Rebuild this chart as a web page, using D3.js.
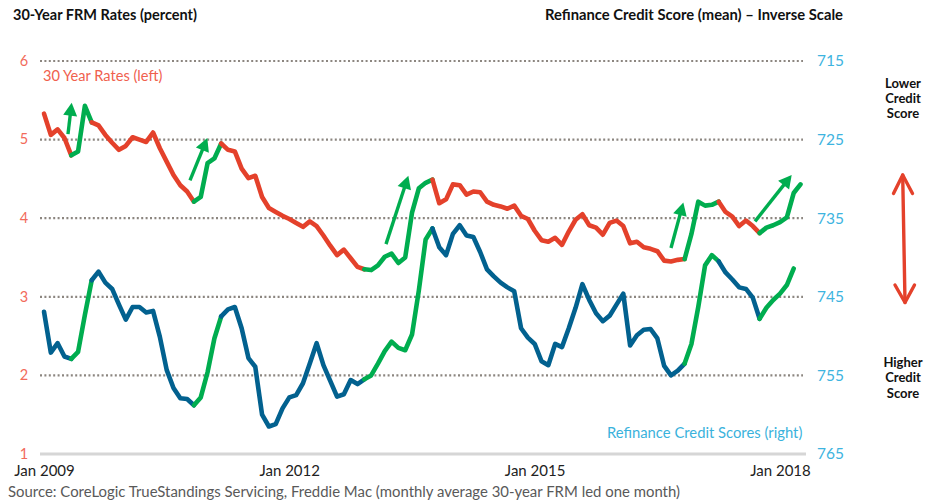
<!DOCTYPE html>
<html>
<head>
<meta charset="utf-8">
<script src="https://cdn.jsdelivr.net/npm/d3@7"></script>
<style>
  body { margin: 0; background: #fff; }
  svg { display: block; }
  text { font-family: Lato, "Open Sans", sans-serif; }
</style>
</head>
<body>
<svg id="chart" width="925" height="503"></svg>
<script>
// Monthly series, first month Jan 2009
const firstMonth = new Date(2009, 0, 1);

// 30-year FRM rate (percent), led one month
const rateValues = [
  5.33, 5.06, 5.13, 5.02, 4.80, 4.85, 5.43, 5.22, 5.18, 5.06,
  4.96, 4.87, 4.92, 5.03, 5.00, 4.97, 5.09, 4.89, 4.72, 4.55,
  4.42, 4.34, 4.21, 4.27, 4.70, 4.76, 4.95, 4.87, 4.85, 4.63,
  4.51, 4.54, 4.27, 4.13, 4.08, 4.03, 3.99, 3.94, 3.89, 3.96,
  3.90, 3.78, 3.65, 3.53, 3.60, 3.49, 3.38, 3.35, 3.34, 3.40,
  3.51, 3.55, 3.43, 3.50, 4.07, 4.38, 4.45, 4.49, 4.19, 4.24,
  4.43, 4.42, 4.30, 4.34, 4.33, 4.21, 4.17, 4.15, 4.12, 4.16,
  4.03, 3.99, 3.84, 3.72, 3.70, 3.75, 3.66, 3.83, 3.98, 4.05,
  3.91, 3.88, 3.79, 3.94, 3.97, 3.90, 3.68, 3.70, 3.63, 3.61,
  3.58, 3.46, 3.45, 3.47, 3.48, 3.80, 4.21, 4.16, 4.17, 4.21,
  4.08, 4.02, 3.90, 3.97, 3.90, 3.81, 3.88, 3.91, 3.95, 4.01,
  4.32, 4.43
];

// Mean refinance credit score
const creditValues = [
  746.9, 752.1, 750.9, 752.6, 752.9, 752.0, 747.3, 742.9, 741.8, 743.2,
  744.0, 746.0, 747.9, 746.3, 746.3, 747.0, 746.8, 750.1, 754.3, 756.6,
  757.9, 758.0, 758.8, 757.8, 754.6, 750.3, 747.5, 746.6, 746.3, 749.0,
  752.8, 753.9, 760.0, 761.5, 761.2, 759.2, 757.8, 757.5, 756.0, 753.5,
  750.9, 753.7, 755.7, 757.7, 757.4, 755.6, 756.1, 755.5, 755.0, 753.5,
  751.9, 750.7, 751.5, 751.8, 749.8, 744.2, 737.7, 736.3, 738.7, 739.7,
  737.0, 735.9, 737.2, 737.4, 739.3, 741.5, 742.4, 743.2, 743.8, 744.3,
  749.0, 750.2, 751.0, 753.2, 753.7, 751.0, 751.4, 749.0, 746.4, 743.4,
  745.4, 747.1, 748.1, 747.4, 746.0, 744.6, 751.2, 749.9, 749.2, 749.1,
  750.3, 753.8, 755.0, 754.4, 753.5, 751.0, 746.3, 741.0, 739.7, 740.5,
  741.9, 742.8, 743.8, 744.0, 745.1, 747.8, 746.4, 745.4, 744.6, 743.5,
  741.4
];

// Month-index spans where rates climb (and scores fall) — drawn in green
const rateRiseSpans   = [[4, 7], [22, 26], [47, 57], [94, 99], [105, 111]];
const creditRiseSpans = [[4, 7], [22, 26], [47, 57], [94, 99], [105, 110]];

// Trend arrows, as [month index, rate] pairs
const trendArrows = [
  { from: [3.52, 5.07],   to: [4.06, 5.47] },
  { from: [21.42, 4.48],  to: [23.96, 5.02] },
  { from: [50.18, 3.67],  to: [53.46, 4.54] },
  { from: [92.0, 3.62],   to: [93.81, 4.20] },
  { from: [104.33, 3.96], to: [109.71, 4.55] }
];

const rateTicks = [1, 2, 3, 4, 5, 6];
const creditTicks = [715, 725, 735, 745, 755, 765];
const dateTicks = [new Date(2009, 0, 1), new Date(2012, 0, 1), new Date(2015, 0, 1), new Date(2018, 0, 1)];

const RED = "#e4412b", GREEN = "#00ad4f", BLUE = "#02618f";

const svg = d3.select("#chart");

const x = d3.scaleTime()
  .domain([new Date(2009, 0, 1), new Date(2018, 0, 1)])
  .range([44, 780]);
const yRate = d3.scaleLinear().domain([1, 6]).range([454, 61]);
const yCredit = d3.scaleLinear().domain([765, 715]).range([454, 61]);

// Month index -> date (fractional indices allowed, average month length)
const MONTH_MS = (365.2425 / 12) * 864e5;
const monthDate = i => new Date(firstMonth.getTime() + i * MONTH_MS);

// Dotted grid lines
svg.append("g").selectAll("line")
  .data(rateTicks.filter(t => t > 1))
  .join("line")
  .attr("x1", 40).attr("x2", 803)
  .attr("y1", d => yRate(d)).attr("y2", d => yRate(d))
  .attr("stroke", "#8c8680")
  .attr("stroke-width", 2.2)
  .attr("stroke-dasharray", "2,2.4");

// Baseline
svg.append("line")
  .attr("x1", 40).attr("x2", 806)
  .attr("y1", yRate(1)).attr("y2", yRate(1))
  .attr("stroke", "#d6d6d6").attr("stroke-width", 3);

// Left axis labels
const leftAxis = d3.axisLeft(yRate).tickValues(rateTicks).tickSize(0).tickPadding(0)
  .tickFormat(d3.format("d"));
const gl = svg.append("g").attr("transform", "translate(28,0)").call(leftAxis);
gl.select(".domain").remove();
gl.selectAll("text").attr("fill", "#f26a5a").attr("font-size", 14.5)
  .attr("text-anchor", "middle").attr("dx", -4).attr("dy", "0.3em");

// Right axis labels
const rightAxis = d3.axisRight(yCredit).tickValues(creditTicks).tickSize(0).tickPadding(0);
const gr = svg.append("g").attr("transform", "translate(817,0)").call(rightAxis);
gr.select(".domain").remove();
gr.selectAll("text").attr("fill", "#3db4df").attr("font-size", 15.5);

// Bottom axis labels
const bottomAxis = d3.axisBottom(x).tickValues(dateTicks).tickSize(0).tickPadding(0)
  .tickFormat(d3.timeFormat("Jan %Y"));
const gb = svg.append("g").attr("transform", "translate(0,465)").call(bottomAxis);
gb.select(".domain").remove();
gb.selectAll("text").attr("fill", "#222").attr("font-size", 15);

// Split a series into colour runs
function colourRuns(values, spans) {
  const runs = [];
  for (let j = 0; j < values.length - 1; j++) {
    const green = spans.some(s => s[0] <= j && j + 1 <= s[1]);
    const last = runs[runs.length - 1];
    if (last && last.green === green) last.idx.push(j + 1);
    else runs.push({ green, idx: [j, j + 1] });
  }
  return runs;
}

function drawSeries(values, spans, yScale, baseColour) {
  const line = d3.line()
    .x(i => x(monthDate(i)))
    .y(i => yScale(values[i]));
  svg.append("g").selectAll("path")
    .data(colourRuns(values, spans))
    .join("path")
    .attr("d", r => line(r.idx))
    .attr("fill", "none")
    .attr("stroke", r => r.green ? GREEN : baseColour)
    .attr("stroke-width", 4.6)
    .attr("stroke-linejoin", "round")
    .attr("stroke-linecap", "round");
}

drawSeries(creditValues, creditRiseSpans, yCredit, BLUE);
drawSeries(rateValues, rateRiseSpans, yRate, RED);

// Green trend arrows
const ga = svg.append("g");
trendArrows.forEach(a => {
  const x0 = x(monthDate(a.from[0])), y0 = yRate(a.from[1]);
  const x1 = x(monthDate(a.to[0])), y1 = yRate(a.to[1]);
  const len = Math.hypot(x1 - x0, y1 - y0);
  const ux = (x1 - x0) / len, uy = (y1 - y0) / len;
  const head = 13, half = 7;
  const bx = x1 - ux * head, by = y1 - uy * head;
  ga.append("line")
    .attr("x1", x0).attr("y1", y0).attr("x2", bx + ux * 2).attr("y2", by + uy * 2)
    .attr("stroke", GREEN).attr("stroke-width", 3.4);
  ga.append("path")
    .attr("d", `M${x1},${y1}L${bx - uy * half},${by + ux * half}L${bx + uy * half},${by - ux * half}Z`)
    .attr("fill", GREEN);
});

// Series labels
svg.append("text").attr("x", 43).attr("y", 81)
  .attr("fill", "#f0604e").attr("font-size", 14.6).text("30 Year Rates (left)");
svg.append("text").attr("x", 607).attr("y", 438)
  .attr("fill", "#3ab2dc").attr("font-size", 14.8).text("Refinance Credit Scores (right)");

// Titles
svg.append("text").attr("x", 13).attr("y", 20)
  .attr("font-weight", 700).attr("font-size", 14.3).attr("fill", "#111")
  .attr("textLength", 184).attr("lengthAdjust", "spacingAndGlyphs")
  .text("30-Year FRM Rates (percent)");
svg.append("text").attr("x", 545).attr("y", 20)
  .attr("font-weight", 700).attr("font-size", 14.3).attr("fill", "#111")
  .attr("textLength", 298).attr("lengthAdjust", "spacingAndGlyphs")
  .text("Refinance Credit Score (mean) \u2013 Inverse Scale");

// Right-hand direction note
const note = svg.append("g").attr("font-weight", 700).attr("font-size", 13)
  .attr("fill", "#111").attr("text-anchor", "middle");
[["Lower", 88], ["Credit", 103], ["Score", 118], ["Higher", 367], ["Credit", 382], ["Score", 398]]
  .forEach(([t, yy]) => note.append("text").attr("x", 903).attr("y", yy).text(t));

const dbl = svg.append("g").attr("stroke", RED).attr("stroke-width", 3.4)
  .attr("fill", "none").attr("stroke-linecap", "round").attr("stroke-linejoin", "round");
dbl.append("line").attr("x1", 902.7).attr("y1", 175).attr("x2", 905).attr("y2", 302.5);
dbl.append("path").attr("d", "M893.5,193.5L902.7,175L912.5,193.5");
dbl.append("path").attr("d", "M895,285L905,302.5L914.5,285");

// Source note
svg.append("text").attr("x", 8).attr("y", 497)
  .attr("fill", "#595959").attr("font-size", 14.5)
  .attr("textLength", 672).attr("lengthAdjust", "spacingAndGlyphs")
  .text("Source: CoreLogic TrueStandings Servicing, Freddie Mac (monthly average 30-year FRM led one month)");
</script>
</body>
</html>
